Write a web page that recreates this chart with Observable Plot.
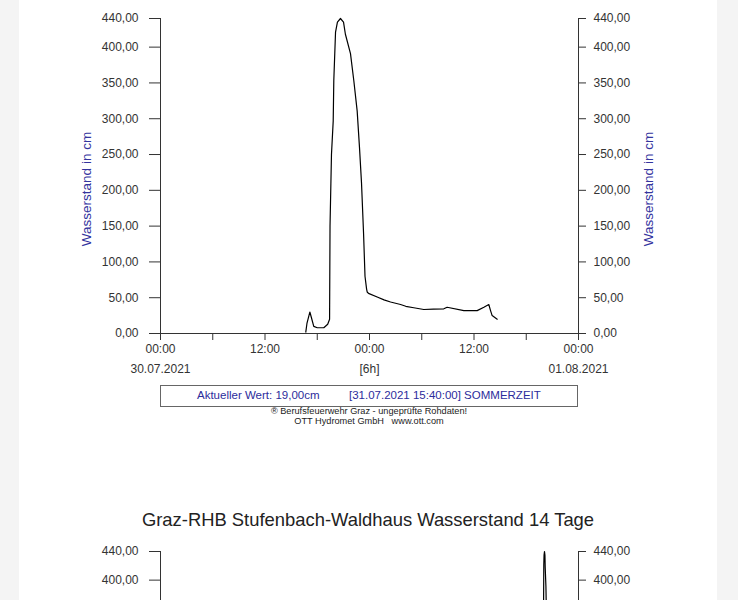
<!DOCTYPE html>
<html>
<head>
<meta charset="utf-8">
<script src="https://cdn.jsdelivr.net/npm/d3@7"></script>
<script src="https://cdn.jsdelivr.net/npm/@observablehq/plot@0.6"></script>
<style>
  html, body { margin: 0; padding: 0; overflow: hidden; background: #fff; }
  body { width: 738px; height: 600px; position: relative; font-family: "Liberation Sans", Arial, sans-serif; }
  .band { position: absolute; top: 0; height: 600px; background: #f4f4f4; }
  .abs { position: absolute; }
  .ylab { position: absolute; color: #34349e; font-size: 13.5px; white-space: nowrap; transform: translate(-50%, -50%) rotate(-90deg); }
  #box { position: absolute; left: 160px; top: 385px; width: 416px; height: 20px; border: 1px solid #666; color: #2c2c9c; font-size: 11.5px; }
  #box span { position: absolute; top: 3px; white-space: nowrap; }
  #foot { position: absolute; left: 160px; width: 418px; top: 407px; text-align: center; font-size: 9.2px; line-height: 9.6px; color: #222; }
  #title { position: absolute; left: 19px; width: 698px; top: 509px; text-align: center; font-size: 18.4px; color: #222; white-space: nowrap; }
  #c2wrap { position: absolute; left: 0; top: 533px; width: 738px; height: 67px; overflow: hidden; }
</style>
</head>
<body>
<div class="band" style="left:0;width:19px"></div>
<div class="band" style="left:717px;width:21px"></div>
<div id="c1" class="abs" style="left:0;top:0"></div>
<div class="ylab" style="left:86px;top:189px">Wasserstand in cm</div>
<div class="ylab" style="left:648px;top:189px">Wasserstand in cm</div>
<div id="box"><span style="left:36px">Aktueller Wert: 19,00cm</span><span style="left:188px">[31.07.2021 15:40:00] SOMMERZEIT</span></div>
<div id="foot">® Berufsfeuerwehr Graz - ungeprüfte Rohdaten!<br>OTT Hydromet GmbH&nbsp;&nbsp; www.ott.com</div>
<div id="title">Graz-RHB Stufenbach-Waldhaus Wasserstand 14 Tage</div>
<div id="c2wrap"><div id="c2"></div></div>
<script>
// ---- data ----
const times = [
  "2021-07-30T16:41","2021-07-30T16:49","2021-07-30T17:09","2021-07-30T17:20","2021-07-30T17:36",
  "2021-07-30T18:00","2021-07-30T18:45","2021-07-30T19:12","2021-07-30T19:25","2021-07-30T19:28",
  "2021-07-30T19:38","2021-07-30T19:50","2021-07-30T19:54","2021-07-30T20:06","2021-07-30T20:19",
  "2021-07-30T20:40","2021-07-30T21:01","2021-07-30T21:14","2021-07-30T21:49","2021-07-30T22:12",
  "2021-07-30T22:35","2021-07-30T22:51","2021-07-30T23:05","2021-07-30T23:19","2021-07-30T23:29",
  "2021-07-30T23:40","2021-07-30T23:44","2021-07-30T23:53","2021-07-31T00:53","2021-07-31T01:40",
  "2021-07-31T02:25","2021-07-31T03:34","2021-07-31T04:10","2021-07-31T05:05","2021-07-31T06:14",
  "2021-07-31T07:20","2021-07-31T08:32","2021-07-31T08:55","2021-07-31T10:50","2021-07-31T12:22",
  "2021-07-31T13:08","2021-07-31T13:42","2021-07-31T13:54","2021-07-31T14:05","2021-07-31T14:40"
];
const levels = [
  2, 14, 30, 22, 10,
  8, 8, 13, 20, 150,
  250, 297, 353, 421, 435,
  440, 435, 418, 391, 353,
  311, 260, 210, 140, 80,
  62, 58, 56, 51, 47,
  44, 40.5, 38, 36, 33.5,
  34, 34.5, 36.7, 32, 32,
  36.7, 40.5, 32, 25, 20
];
const yTicks = [0, 50, 100, 150, 200, 250, 300, 350, 400, 440];
const yTicksVisible14d = [400, 440];
const xStart2d = "2021-07-30T00:00";
const xEnd2d = "2021-08-01T00:00";
const xStart14d = "2021-07-18T00:00";
const dateLabels = ["30.07.2021", "[6h]", "01.08.2021"];
const dateLabelTimes = ["2021-07-30T00:00", "2021-07-31T00:00", "2021-08-01T00:00"];

const parse = s => new Date(s + ":00Z");
const data = times.map((t, i) => ({t: parse(t), v: levels[i]}));
const fmt = d => d.toFixed(2).replace(".", ",");
const ink = "#333";

function axesMarks(x0, x1, ticks) {
  return [
    Plot.ruleX([x0], {y1: 0, y2: 440, stroke: ink}),
    Plot.ruleX([x1], {y1: 0, y2: 440, stroke: ink}),
    Plot.ruleY([0], {stroke: ink}),
    Plot.axisY(ticks, {anchor: "left", tickSize: 11, tickPadding: 11, tickFormat: fmt, label: null, stroke: ink, fill: ink}),
    Plot.axisY(ticks, {anchor: "right", tickSize: 7, tickPadding: 8, tickFormat: fmt, label: null, stroke: ink, fill: ink})
  ];
}

const base = {
  width: 738, height: 380, marginLeft: 160, marginRight: 160, marginTop: 18, marginBottom: 47,
  style: {fontFamily: "'Liberation Sans', Arial, sans-serif", fontSize: "12px", color: ink, background: "transparent", overflow: "visible"},
  y: {domain: [0, 440]}
};

const x0 = parse(xStart2d), x1 = parse(xEnd2d);
const sixHours = d3.utcHour.every(6).range(x0, new Date(+x1 + 1));
const chart1 = Plot.plot({
  ...base,
  x: {type: "utc", domain: [x0, x1]},
  marks: [
    ...axesMarks(x0, x1, yTicks),
    Plot.axisX(sixHours, {tickSize: 7, tickPadding: 4, label: null, stroke: ink, fill: ink,
      tickFormat: d => d.getUTCHours() % 12 === 0 ? d3.utcFormat("%H:%M")(d) : ""}),
    Plot.text(dateLabels, {x: (d, i) => parse(dateLabelTimes[i]), y: () => 0, dy: 36, text: d => d, fill: ink, fontSize: 12}),
    Plot.line(data, {x: "t", y: "v", stroke: "#000", strokeWidth: 1.2})
  ]
});
document.getElementById("c1").appendChild(chart1);

// second chart (14 days) — only its top is inside the window
const x0b = parse(xStart14d);
const chart2 = Plot.plot({
  ...base,
  x: {type: "utc", domain: [x0b, x1], axis: null},
  marks: [
    ...axesMarks(x0b, x1, yTicksVisible14d),
    Plot.line(data, {x: "t", y: "v", stroke: "#000", strokeWidth: 1.2})
  ]
});
document.getElementById("c2").appendChild(chart2);
</script>
</body>
</html>
